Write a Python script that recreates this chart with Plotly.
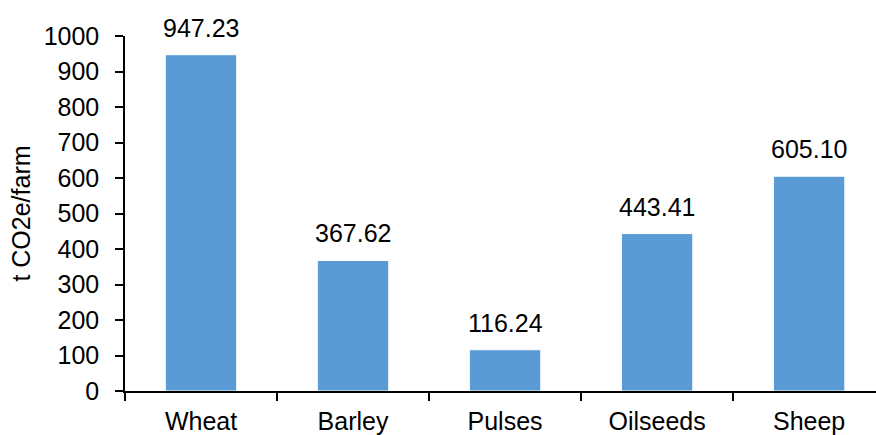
import plotly.graph_objects as go

categories = ["Wheat", "Barley", "Pulses", "Oilseeds", "Sheep"]
emissions = [947.23, 367.62, 116.24, 443.41, 605.10]
y_ticks = list(range(0, 1001, 100))

bar_color = "#5B9BD5"
font_family = "Liberation Sans, Arial, sans-serif"
font_size = 25

fig = go.Figure()
fig.add_trace(go.Bar(
    x=categories,
    y=emissions,
    width=0.47,
    marker=dict(color=bar_color, line=dict(color="white", width=1)),
    cliponaxis=False,
    hoverinfo="x+y",
))

# value labels above each bar
for cat, val in zip(categories, emissions):
    fig.add_annotation(
        x=cat, y=val, text=f"{val:.2f}",
        showarrow=False, yanchor="bottom", yshift=11,
        font=dict(family=font_family, size=font_size, color="black"),
    )

fig.update_layout(
    width=876, height=435,
    margin=dict(l=125, r=0, t=36, b=44),
    paper_bgcolor="white", plot_bgcolor="white",
    showlegend=False,
    font=dict(family=font_family, size=font_size, color="black"),
)
fig.update_xaxes(
    type="category",
    range=[-0.5, 4.44],
    showline=True, linecolor="black", linewidth=1.5,
    ticks="outside", tickson="boundaries", ticklen=8, tickwidth=1.5, tickcolor="black",
    ticklabelstandoff=7,
    showgrid=False, zeroline=False,
    tickfont=dict(family=font_family, size=font_size),
)
fig.update_yaxes(
    range=[0, 1000],
    tickvals=y_ticks,
    showline=True, linecolor="black", linewidth=1.5,
    ticks="outside", ticklen=8, tickwidth=1.5, tickcolor="black",
    ticklabelstandoff=11,
    showgrid=False, zeroline=False,
    tickfont=dict(family=font_family, size=font_size),
    title=dict(text="t CO2e/farm", font=dict(family=font_family, size=font_size), standoff=6),
)

fig.write_html("out.html")
